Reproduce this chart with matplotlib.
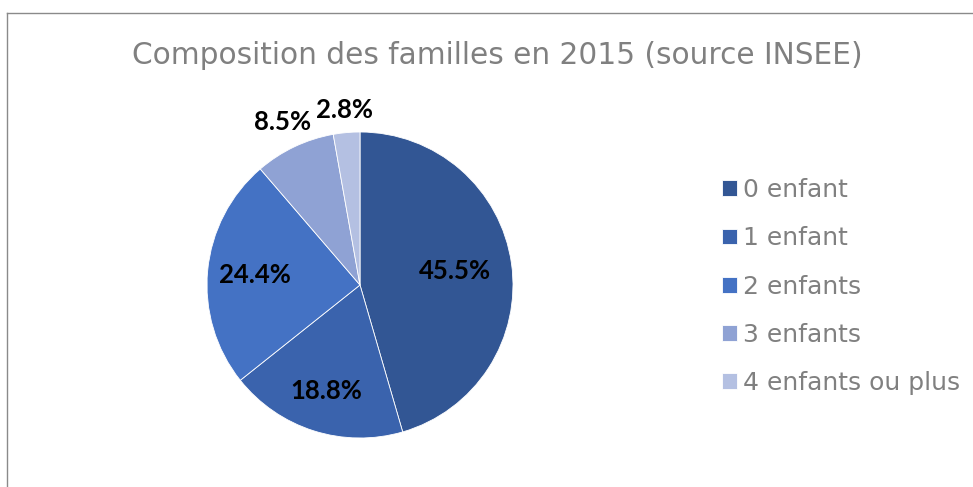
import matplotlib
matplotlib.use("Agg")
import matplotlib.pyplot as plt
import numpy as np
from matplotlib.lines import Line2D

categories = ["0 enfant", "1 enfant", "2 enfants", "3 enfants", "4 enfants ou plus"]
values = [45.5, 18.8, 24.4, 8.5, 2.8]
colors = ["#325694", "#3A63AD", "#4472C4", "#8FA2D4", "#B4C0E2"]
label_dist = [0.63, 0.73, 0.69, 1.18, 1.15]
title = "Composition des familles en 2015 (source INSEE)"

W, H = 973, 487
fig = plt.figure(figsize=(W / 100, H / 100), dpi=100)
fig.patch.set_facecolor("white")

# frame
fig.add_artist(Line2D([6.5 / W, 6.5 / W], [0, 1 - 12.5 / H], color="#8a8a8a", lw=1.0))
fig.add_artist(Line2D([6.5 / W, 1], [1 - 12.5 / H, 1 - 12.5 / H], color="#8a8a8a", lw=1.0))

cx, cy, r = 360, 285, 153
ax = fig.add_axes([(cx - r) / W, (H - cy - r) / H, 2 * r / W, 2 * r / H])
wedges, _ = ax.pie(values, colors=colors, startangle=90, counterclock=False,
                   radius=1.0, wedgeprops=dict(edgecolor="white", linewidth=0.6))
ax.set_xlim(-1, 1)
ax.set_ylim(-1, 1)
ax.set_aspect("equal")
ax.axis("off")

total = sum(values)
cum = 0
for v, d in zip(values, label_dist):
    mid = 90 - (cum + v / 2) / total * 360
    cum += v
    a = np.deg2rad(mid)
    ax.text(d * np.cos(a), d * np.sin(a), f"{v:.1f}%", ha="center", va="center",
            fontsize=18.5, fontweight="bold", family="Lato", color="black", clip_on=False)

fig.text(497 / W, 1 - 55 / H, title, ha="center", va="center", fontsize=21.3,
         color="#808080", family="DejaVu Sans")

leg = fig.legend(wedges, categories, loc="upper left",
                 bbox_to_anchor=(712 / W, 1 - 168 / H), frameon=False,
                 fontsize=18, handlelength=0.6, handleheight=0.6,
                 handletextpad=0.25, labelspacing=0.97, borderaxespad=0)
for t in leg.get_texts():
    t.set_color("#808080")

fig.savefig("out.png", dpi=100, facecolor="white")
